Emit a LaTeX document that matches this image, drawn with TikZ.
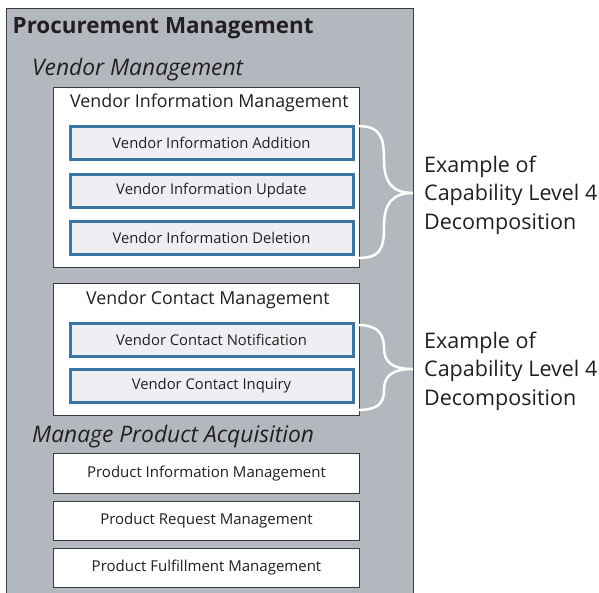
\documentclass[tikz,border=0pt]{standalone}
\usepackage{fontspec}
\setmainfont{Open Sans}
\definecolor{panel}{HTML}{B3B8BF}
\definecolor{bluebd}{HTML}{3B76A2}
\definecolor{bluefl}{HTML}{EEEFF2}
\definecolor{txt}{HTML}{231F20}
\definecolor{edge}{HTML}{3A3A3A}
\begin{document}
\begin{tikzpicture}[x=1pt,y=-1pt,
  box/.style={draw=edge,line width=1pt,fill=white,minimum width=306pt,inner sep=0pt,anchor=north west},
  bluebox/.style={draw=bluebd,line width=3pt,fill=bluefl,minimum width=283pt,inner sep=0pt,anchor=north west,font=\fontsize{14.8}{17}\selectfont,text=txt},
  wbox/.style={box,font=\fontsize{15}{18}\selectfont,text=txt},
  heading/.style={anchor=west,inner sep=0pt,font=\fontsize{17.8}{21}\selectfont,text=txt},
  itlabel/.style={anchor=west,inner sep=0pt,font=\fontsize{22.8}{26}\selectfont\itshape,text=txt},
  note/.style={anchor=west,inner sep=0pt,align=left,font=\fontsize{21.5}{28.5}\selectfont,text=txt},
  brace/.style={draw=white,line width=2.5pt}]
\useasboundingbox (0,0) rectangle (599,592);
\fill[panel] (6,8) rectangle (413,600);
\draw[edge,line width=1pt] (6,600) -- (6,8) -- (413,8) -- (413,600);
\node[anchor=west,inner sep=0pt,font=\fontsize{22.4}{26}\selectfont\bfseries,text=txt] (title) at (12.5,28) {Procurement Management};
\node[itlabel] (vm) at (32,70) {Vendor Management};
% Vendor Information Management
\node[box,minimum height=180pt] (vim) at (53,87) {};
\node[heading] (vimt) at (70,103) {Vendor Information Management};
\node[bluebox,minimum height=33pt] (b1) at (68.5,124.5) {Vendor Information Addition};
\node[bluebox,minimum height=33pt] (b2) at (68.5,172.5) {Vendor Information Update};
\node[bluebox,minimum height=33pt] (b3) at (68.5,219.5) {Vendor Information Deletion};
% Vendor Contact Management
\node[box,minimum height=132pt] (vcm) at (53,283) {};
\node[heading] (vcmt) at (86,300) {Vendor Contact Management};
\node[bluebox,minimum height=33pt] (c1) at (68.5,321.5) {Vendor Contact Notification};
\node[bluebox,minimum height=33pt] (c2) at (68.5,367.5) {Vendor Contact Inquiry};
% Manage Product Acquisition
\node[itlabel] (mpa) at (32,437) {Manage Product Acquisition};
\node[wbox,minimum height=40pt] (p1) at (53,453) {Product Information Management};
\node[wbox,minimum height=39pt] (p2) at (53,501) {Product Request Management};
\node[wbox,minimum height=39pt] (p3) at (53,548) {Product Fulfillment Management};
% braces
\coordinate (t1) at (413,193);
\coordinate (t2) at (413,369);
\draw[brace] (357,126) .. controls (380,126) and (384,136) .. (384,160)
  .. controls (384,182) and (392,193) .. (t1)
  .. controls (392,193) and (384,204) .. (384,226)
  .. controls (384,250) and (380,258) .. (357,258);
\draw[brace] (357,325) .. controls (376,325) and (384,332) .. (384,348)
  .. controls (384,362) and (392,369) .. (t2)
  .. controls (392,369) and (384,376) .. (384,390)
  .. controls (384,405) and (376,410) .. (357,410);
\node[note] (n1) at (424,195) {Example of\\Capability Level 4\\Decomposition};
\node[note] (n2) at (424,371) {Example of\\Capability Level 4\\Decomposition};
\end{tikzpicture}
\end{document}
